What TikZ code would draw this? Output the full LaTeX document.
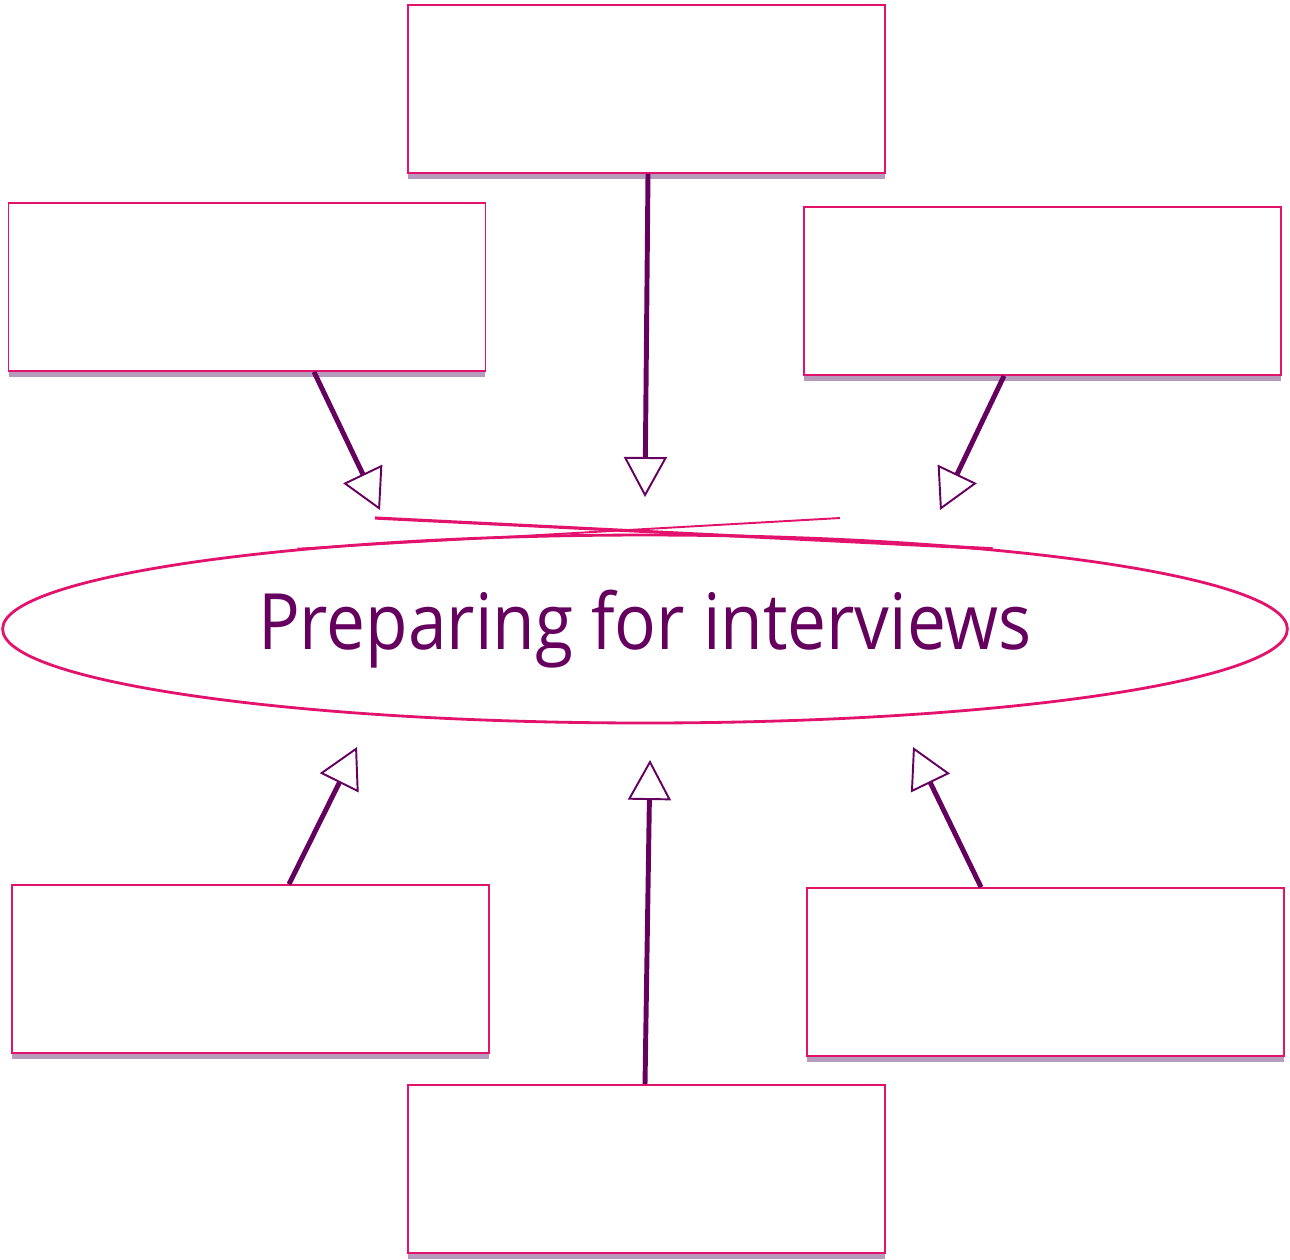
\documentclass[tikz,border=0pt]{standalone}
\usepackage{fontspec}
\setmainfont{Open Sans}
\usetikzlibrary{arrows.meta,shadows,shapes.geometric,calc}
\definecolor{rim}{HTML}{E3126C}
\definecolor{plum}{HTML}{66005F}
\definecolor{shade}{HTML}{B69CBC}
\tikzset{
  topic/.style={draw=rim,line width=1pt,fill=white,minimum width=9.54cm,minimum height=3.36cm,
    drop shadow={shadow xshift=0pt,shadow yshift=-0.12cm,fill=shade,opacity=1}},
  feed/.style={draw=plum,line width=2.8pt,
    -{Triangle[open,length=8mm,width=8.6mm,line width=1.1pt]}}
}
\begin{document}
\begin{tikzpicture}[x=0.02cm,y=-0.02cm]
  \useasboundingbox (0,0) rectangle (1290,1259);
  % the six empty boxes
  \path (646.5,89) node[topic] (top) {};
  \path (247,287) node[topic] (lu) {};
  \path (1042.5,291) node[topic] (ru) {};
  \path (250.5,969) node[topic] (ll) {};
  \path (1045.5,972) node[topic] (rl) {};
  \path (646.5,1169) node[topic] (bot) {};
  % centre
  \path (645,629) node[ellipse,draw=rim,line width=1.6pt,inner sep=0pt,
    minimum width=25.7cm,minimum height=3.76cm] (goal)
    {\color{plum}\fontsize{39.5}{46}\selectfont\scalebox{1}[1.12]{Preparing for interviews}};
  \path (840,518) coordinate (la);
  \path (375,518) coordinate (ra);
  \draw[rim,line width=1.1pt] (la) -- (goal.167);
  \draw[rim,line width=1.8pt] (ra) -- (goal.13);
  % arrow ends
  \path (645,497) coordinate (t1);
  \path (380,510) coordinate (t2);
  \path (940,510) coordinate (t3);
  \path (357,747) coordinate (t4);
  \path (650,760) coordinate (t5);
  \path (913,747) coordinate (t6);
  \draw[feed] ([xshift=0.03cm]top.south) -- (t1);
  \draw[feed] ([xshift=1.34cm]lu.south) -- (t2);
  \draw[feed] ([xshift=-0.77cm]ru.south) -- (t3);
  \draw[feed] ([xshift=0.77cm]ll.north) -- (t4);
  \draw[feed] ([xshift=-0.03cm]bot.north) -- (t5);
  \draw[feed] ([xshift=-1.29cm]rl.north) -- (t6);
\end{tikzpicture}
\end{document}
